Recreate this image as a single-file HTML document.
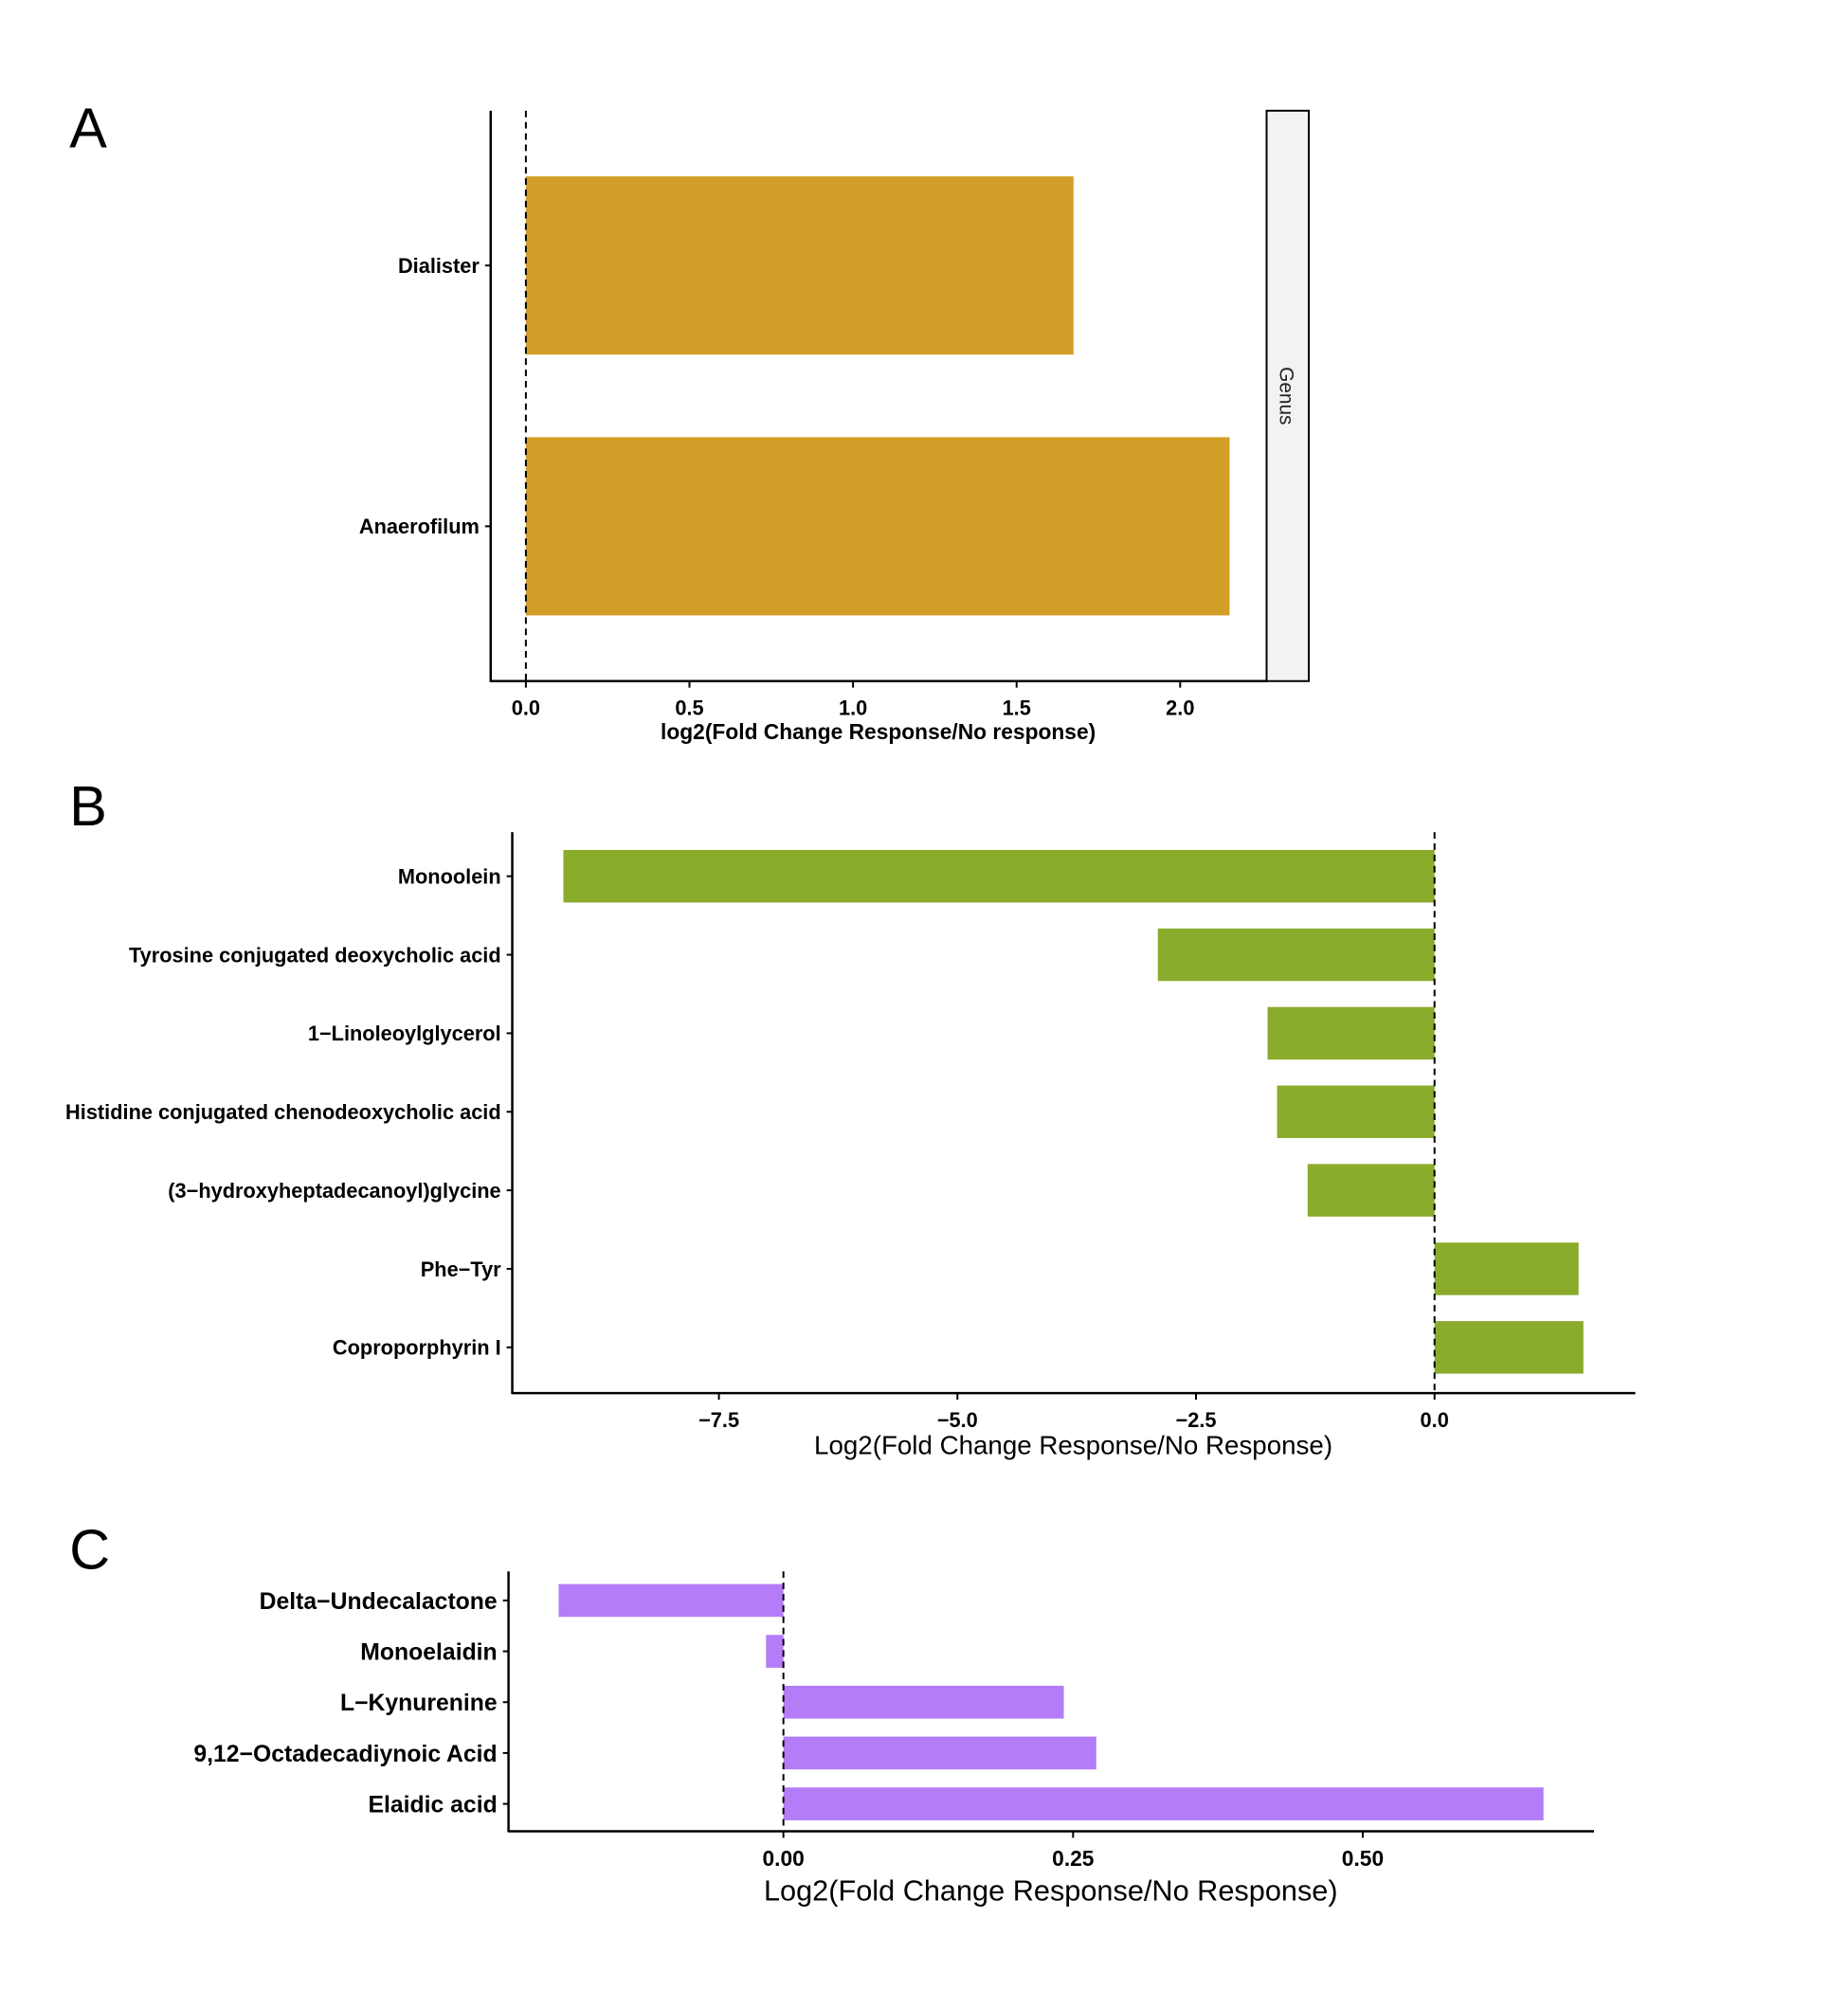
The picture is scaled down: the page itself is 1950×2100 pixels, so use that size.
<!DOCTYPE html>
<html><head><meta charset="utf-8"><style>
html,body{margin:0;padding:0;background:#fff;}
svg{display:block;font-family:"Liberation Sans",Arial,sans-serif;}
</style></head><body>
<svg id="fig" width="1950" height="2100" viewBox="0 0 1950 2100" xmlns="http://www.w3.org/2000/svg">
<g transform="scale(0.99)">
<text x="74" y="157" font-size="60">A</text>
<text x="74" y="880" font-size="60">B</text>
<text x="74" y="1672" font-size="60">C</text>
<g id="pa"></g>
<g id="pb"></g>
<g id="pc"></g>
</g>
</svg>
<script>
const aCategories = ["Dialister","Anaerofilum"];
const aValues = [1.674, 2.151];
const aTicks = [0, 0.5, 1.0, 1.5, 2.0];
const aTickLabels = ["0.0","0.5","1.0","1.5","2.0"];

const bCategories = ["Monoolein","Tyrosine conjugated deoxycholic acid","1\u2212Linoleoylglycerol","Histidine conjugated chenodeoxycholic acid","(3\u2212hydroxyheptadecanoyl)glycine","Phe\u2212Tyr","Coproporphyrin I"];
const bValues = [-9.13, -2.90, -1.75, -1.65, -1.33, 1.51, 1.56];
const bTicks = [-7.5, -5.0, -2.5, 0.0];
const bTickLabels = ["\u22127.5","\u22125.0","\u22122.5","0.0"];

const cCategories = ["Delta\u2212Undecalactone","Monoelaidin","L\u2212Kynurenine","9,12\u2212Octadecadiynoic Acid","Elaidic acid"];
const cValues = [-0.194, -0.015, 0.242, 0.270, 0.656];
const cTicks = [0, 0.25, 0.5];
const cTickLabels = ["0.00","0.25","0.50"];

const NS="http://www.w3.org/2000/svg";
function mk(parent,tag,attrs,text){const e=document.createElementNS(NS,tag);for(const k in attrs)e.setAttribute(k,attrs[k]);if(text!==undefined)e.textContent=text;parent.appendChild(e);return e;}

function drawPanel(g,cfg){
  const x=v=>cfg.zero+v*cfg.scale;
  const yc=i=>cfg.c0+i*cfg.step;
  cfg.cats.forEach((c,i)=>{
    const v=cfg.vals[i];
    const r=mk(g,'rect',{x:Math.min(x(0),x(v)),y:yc(i)-cfg.bh/2,width:Math.abs(x(v)-x(0)),height:cfg.bh,fill:cfg.color});
    
    
    const tk=mk(g,'line',{x1:cfg.ax-6,x2:cfg.ax,y1:yc(i),y2:yc(i),stroke:'#000','stroke-width':2});
    
    
    const t=mk(g,'text',{x:cfg.ax-12,y:yc(i)+cfg.lfs*0.36,'text-anchor':'end','font-size':cfg.lfs,'font-weight':'bold'},c);
    
    
  });
  const z=mk(g,'line',{x1:x(0),x2:x(0),y1:cfg.top,y2:cfg.bottom,stroke:'#000','stroke-width':2,'stroke-dasharray':'7,5'});
  
  
  const ya=mk(g,'line',{x1:cfg.ax,x2:cfg.ax,y1:cfg.top,y2:cfg.bottom+1,stroke:'#000','stroke-width':2.5});
  
  
  const xa=mk(g,'line',{x1:cfg.ax,x2:cfg.right,y1:cfg.bottom,y2:cfg.bottom,stroke:'#000','stroke-width':2.5});
  
  
  cfg.ticks.forEach((v,i)=>{
    const tk=mk(g,'line',{x1:x(v),x2:x(v),y1:cfg.bottom,y2:cfg.bottom+7,stroke:'#000','stroke-width':2});
    
    
    const t=mk(g,'text',{x:x(v),y:cfg.bottom+cfg.tfs+14,'text-anchor':'middle','font-size':cfg.tfs,'font-weight':'bold'},cfg.tickLabels[i]);
    
    
  });
  const tt=mk(g,'text',{x:cfg.titleX,y:cfg.titleY,'text-anchor':'middle','font-size':cfg.titleFs,'font-weight':cfg.titleBold?'bold':'normal'},cfg.title);
  
  
}

drawPanel(document.getElementById('pa'),{cats:aCategories,vals:aValues,ticks:aTicks,tickLabels:aTickLabels,
  zero:560.5,scale:348.7,c0:283,step:278,bh:190,color:'#D39E27',ax:523,top:118,bottom:726,right:1350,
  lfs:22,tfs:22,title:'log2(Fold Change Response/No response)',titleX:936,titleY:788,titleFs:23,titleBold:true});
(function(){const g=document.getElementById('pa');
 const r=mk(g,'rect',{x:1350,y:118,width:45,height:608,fill:'#F2F2F2',stroke:'#000','stroke-width':2});
 
 
 const t=mk(g,'text',{x:0,y:0,'font-size':21,fill:'#222','text-anchor':'middle',transform:'translate(1364,422) rotate(90)'},'Genus');
 
 
})();

drawPanel(document.getElementById('pb'),{cats:bCategories,vals:bValues,ticks:bTicks,tickLabels:bTickLabels,
  zero:1529,scale:101.7,c0:934,step:83.7,bh:56,color:'#8AAB2B',ax:546,top:887,bottom:1485,right:1743,
  lfs:22,tfs:22,title:'Log2(Fold Change Response/No Response)',titleX:1144,titleY:1550,titleFs:28,titleBold:false});

drawPanel(document.getElementById('pc'),{cats:cCategories,vals:cValues,ticks:cTicks,tickLabels:cTickLabels,
  zero:835,scale:1235,c0:1706,step:54.2,bh:35,color:'#B47CF7',ax:542,top:1675,bottom:1952,right:1699,
  lfs:25,tfs:23,title:'Log2(Fold Change Response/No Response)',titleX:1120,titleY:2026,titleFs:31,titleBold:false});
</script>
</body></html>
